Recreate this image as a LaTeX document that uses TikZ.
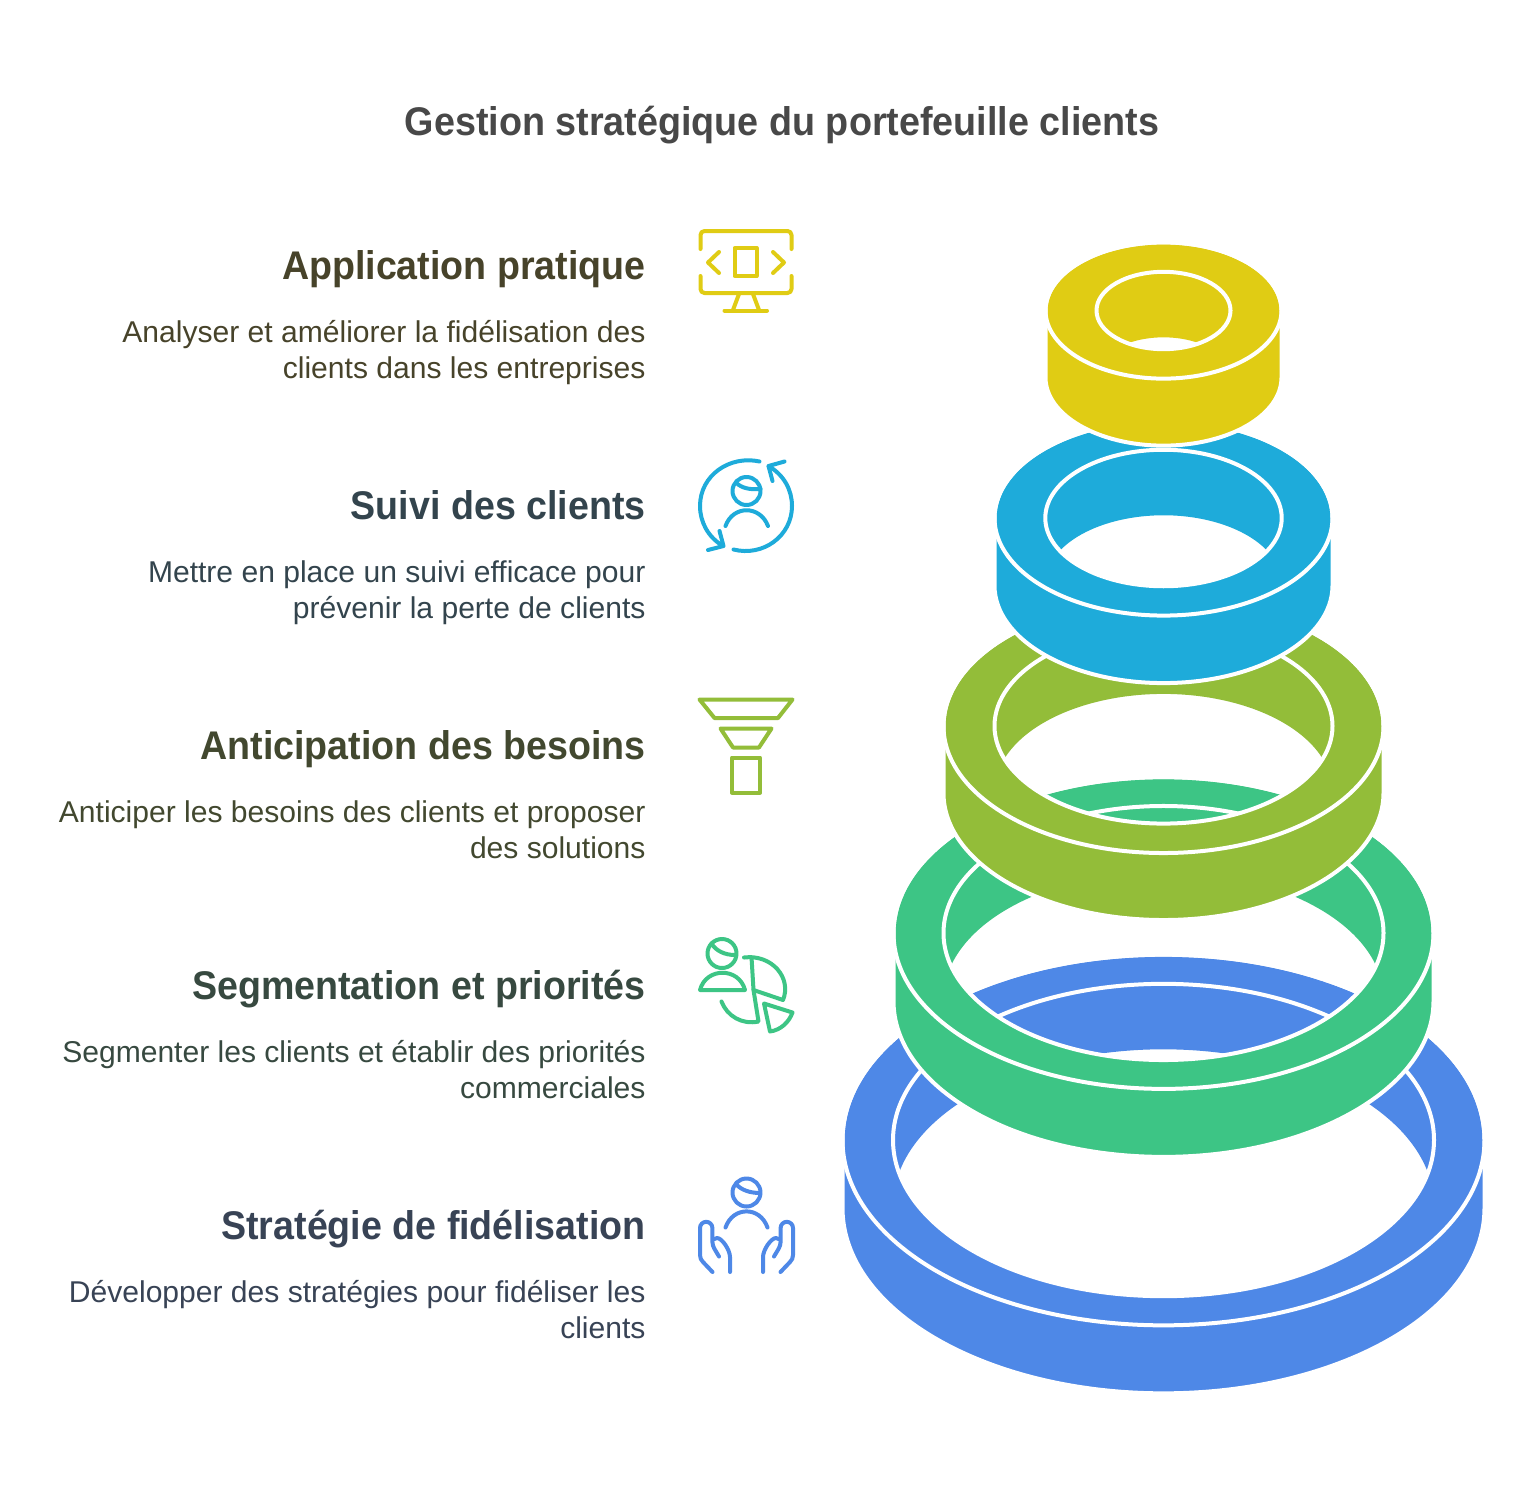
\documentclass[tikz,border=0pt]{standalone}
\usepackage{fontspec}
\setmainfont{Liberation Sans}
\newfontfamily\titlefont[FakeStretch=0.943]{Liberation Sans}
\newfontfamily\headfont[FakeStretch=0.94]{Liberation Sans}
\definecolor{ringYellow}{HTML}{E0CC14}
\definecolor{ringCyan}{HTML}{1EABDA}
\definecolor{ringOlive}{HTML}{93BD39}
\definecolor{ringGreen}{HTML}{3DC585}
\definecolor{ringBlue}{HTML}{4E88E7}
\definecolor{txtTitle}{HTML}{484848}
\definecolor{txtYellow}{HTML}{47432A}
\definecolor{txtCyan}{HTML}{33444D}
\definecolor{txtOlive}{HTML}{42482F}
\definecolor{txtGreen}{HTML}{374940}
\definecolor{txtBlue}{HTML}{384355}
\tikzset{every picture/.style={line width=0.75pt}}
\tikzset{
  titletext/.style={anchor=base,inner sep=0pt,font=\titlefont\fontsize{30}{36}\bfseries\selectfont,text=txtTitle},
  headtext/.style={anchor=base east,inner sep=0pt,font=\headfont\fontsize{30}{36}\bfseries\selectfont},
  bodytext/.style={anchor=north east,inner sep=0pt,align=right,font=\fontsize{22.55}{27}\selectfont,execute at begin node=\strut},
  iconline/.style={line width=3pt,line cap=round,line join=round},
  ringedge/.style={draw=white,line width=3pt},
}
% #1 centre y, #2 outer x radius, #3 inner x radius, #4 colour, #5 outer height
\newcommand{\ringshape}[5]{
  \pgfmathsetmacro{\ry}{#2/1.732}
  \pgfmathsetmacro{\riy}{#3/1.732}
  \pgfmathsetmacro{\rh}{65.5}
  \pgfmathsetmacro{\ra}{asin(\rh/(2*\riy))}
  \fill[#4,even odd rule]
    ({1163.5-#2},#1) arc[start angle=180,end angle=360,x radius=#2,y radius=\ry]
    -- ({1163.5+#2},{#1+#5}) arc[start angle=0,end angle=180,x radius=#2,y radius=\ry] -- cycle
    ({1163.5-#3*cos(\ra)},{#1+\rh/2}) arc[start angle={180+\ra},end angle={360-\ra},x radius=#3,y radius=\riy]
    arc[start angle=\ra,end angle={180-\ra},x radius=#3,y radius=\riy] -- cycle;
  \draw[ringedge] ({1163.5-#2},#1) arc[start angle=180,end angle=360,x radius=#2,y radius=\ry]
    -- ({1163.5+#2},{#1+#5}) arc[start angle=0,end angle=180,x radius=#2,y radius=\ry] -- cycle;
  \draw[ringedge] (1163.5,#1) ellipse[x radius=#2,y radius=\ry];
  \draw[ringedge] (1163.5,#1) ellipse[x radius=#3,y radius=\riy];
}
\begin{document}
\begin{tikzpicture}[x=0.75pt,y=0.75pt,yscale=-1,xscale=1]

\useasboundingbox (0,0) rectangle (1535,1492);
\fill[white] (0,0) rectangle (1535,1492);

% rings, lowest first
\ringshape{1140}{321}{270.5}{ringBlue}{68}
\ringshape{933}{270}{220}{ringGreen}{68}
\ringshape{726}{220}{169}{ringOlive}{67}
\ringshape{518}{169}{118.2}{ringCyan}{67.5}
\ringshape{310.5}{118}{67}{ringYellow}{67}

\node (title) [titletext] at (782,135.5) {Gestion stratégique du portefeuille clients};

% texts
\node (headApp) [headtext,text=txtYellow] at (646,279) {Application pratique};
\node (bodyApp) [bodytext,text=txtYellow] at (646,319.8) {Analyser et améliorer la fidélisation des\\clients dans les entreprises};
\node (headSuivi) [headtext,text=txtCyan] at (646,519) {Suivi des clients};
\node (bodySuivi) [bodytext,text=txtCyan] at (646,559.8) {Mettre en place un suivi efficace pour\\prévenir la perte de clients};
\node (headBesoin) [headtext,text=txtOlive] at (646,759) {Anticipation des besoins};
\node (bodyBesoin) [bodytext,text=txtOlive] at (646,799.8) {Anticiper les besoins des clients et proposer\\des solutions};
\node (headSeg) [headtext,text=txtGreen] at (646,999) {Segmentation et priorités};
\node (bodySeg) [bodytext,text=txtGreen] at (646,1039.8) {Segmenter les clients et établir des priorités\\commerciales};
\node (headFid) [headtext,text=txtBlue] at (646,1239) {Stratégie de fidélisation};
\node (bodyFid) [bodytext,text=txtBlue] at (646,1279.8) {Développer des stratégies pour fidéliser les\\clients};

% icon monitor
\draw[iconline,ringYellow] (700.5,249) -- (700.5,235) arc[start angle=180,end angle=270,radius=4] -- (787.5,231) arc[start angle=270,end angle=360,radius=4] -- (791.5,249);
\draw[iconline,ringYellow] (700.5,276) -- (700.5,289) arc[start angle=180,end angle=90,radius=4] -- (787.5,293) arc[start angle=90,end angle=0,radius=4] -- (791.5,276);
\draw[iconline,ringYellow] (734.5,248) rectangle (756.5,276);
\draw[iconline,ringYellow] (719,252) -- (708,262.5) -- (719,273);
\draw[iconline,ringYellow] (773,252) -- (784,262.5) -- (773,273);
\draw[iconline,ringYellow] (739,294) -- (733,310);
\draw[iconline,ringYellow] (753,294) -- (759,310);
\draw[iconline,ringYellow] (724.5,310.5) -- (767,310.5);

% icon client with arrows
\draw[iconline,ringCyan] (759.5,461.5) .. controls (730,455) and (700,475) .. (700,506) .. controls (700,522) and (708,537) .. (723,546);
\draw[iconline,ringCyan] (719.5,531) -- (723.5,546) -- (708,550);
\draw[iconline,ringCyan] (733.5,549.5) .. controls (763,557) and (792,536) .. (792,506) .. controls (792,490) and (784,475) .. (768.5,466);
\draw[iconline,ringCyan] (784.5,461.5) -- (768.5,466) -- (772.5,481);
\draw[iconline,ringCyan] (746.5,491) circle[radius=14];
\draw[iconline,ringCyan] (736,482.5) .. controls (741,488) and (750,490) .. (760.5,489);
\draw[iconline,ringCyan] (725.5,526) .. controls (733,505) and (760,505) .. (768,526);

% icon funnel
\draw[iconline,ringOlive] (699.5,699.5) -- (792.5,699.5) -- (778,718) -- (714.5,718) -- cycle;
\draw[iconline,ringOlive] (720.5,728.5) -- (771.5,728.5) -- (759,747.5) -- (733,747.5) -- cycle;
\draw[iconline,ringOlive] (732,757.5) rectangle (760,792.5);

% icon segments
\draw[iconline,ringGreen] (722,953.5) circle[radius=14.5];
\draw[iconline,ringGreen] (711.5,943.5) .. controls (716,951) and (725,955) .. (735,955);
\draw[iconline,ringGreen] (700,990) .. controls (706,967) and (739,967) .. (745,990) -- cycle;
\draw[iconline,ringGreen] (744,957.5) .. controls (772,954) and (792,978) .. (783,1000) -- (753.5,990) -- (751.5,957);
\draw[iconline,ringGreen] (721.5,1001.5) .. controls (727,1016) and (742,1025) .. (758.5,1021.5) -- (753.5,990);
\draw[iconline,ringGreen] (764,1003.5) -- (792.5,1012.5) .. controls (789,1022) and (781,1030) .. (770,1031.5) -- cycle;

% icon caring hands
\draw[iconline,ringBlue] (746.5,1192.5) circle[radius=14];
\draw[iconline,ringBlue] (736,1184) .. controls (741,1190) and (750,1193) .. (760,1193);
\draw[iconline,ringBlue] (725.5,1227.5) .. controls (733,1206) and (760,1206) .. (767.5,1227.5);
\draw[iconline,ringBlue] (712.5,1272) -- (703,1262) .. controls (701,1260) and (700,1258) .. (700,1255) -- (700,1228) arc[start angle=180,end angle=360,radius=6.2] -- (712.4,1242) .. controls (712.4,1247) and (716,1251) .. (719,1256.5);
\draw[iconline,ringBlue] (713,1239.5) -- (717,1238) .. controls (722,1238) and (730,1250) .. (730,1257) -- (730,1272);
\draw[iconline,ringBlue] (780.5,1272) -- (790,1262) .. controls (792,1260) and (793,1258) .. (793,1255) -- (793,1228) arc[start angle=360,end angle=180,radius=6.2] -- (780.6,1242) .. controls (780.6,1247) and (777,1251) .. (774,1256.5);
\draw[iconline,ringBlue] (780,1239.5) -- (776,1238) .. controls (771,1238) and (763,1250) .. (763,1257) -- (763,1272);

\end{tikzpicture}
\end{document}
